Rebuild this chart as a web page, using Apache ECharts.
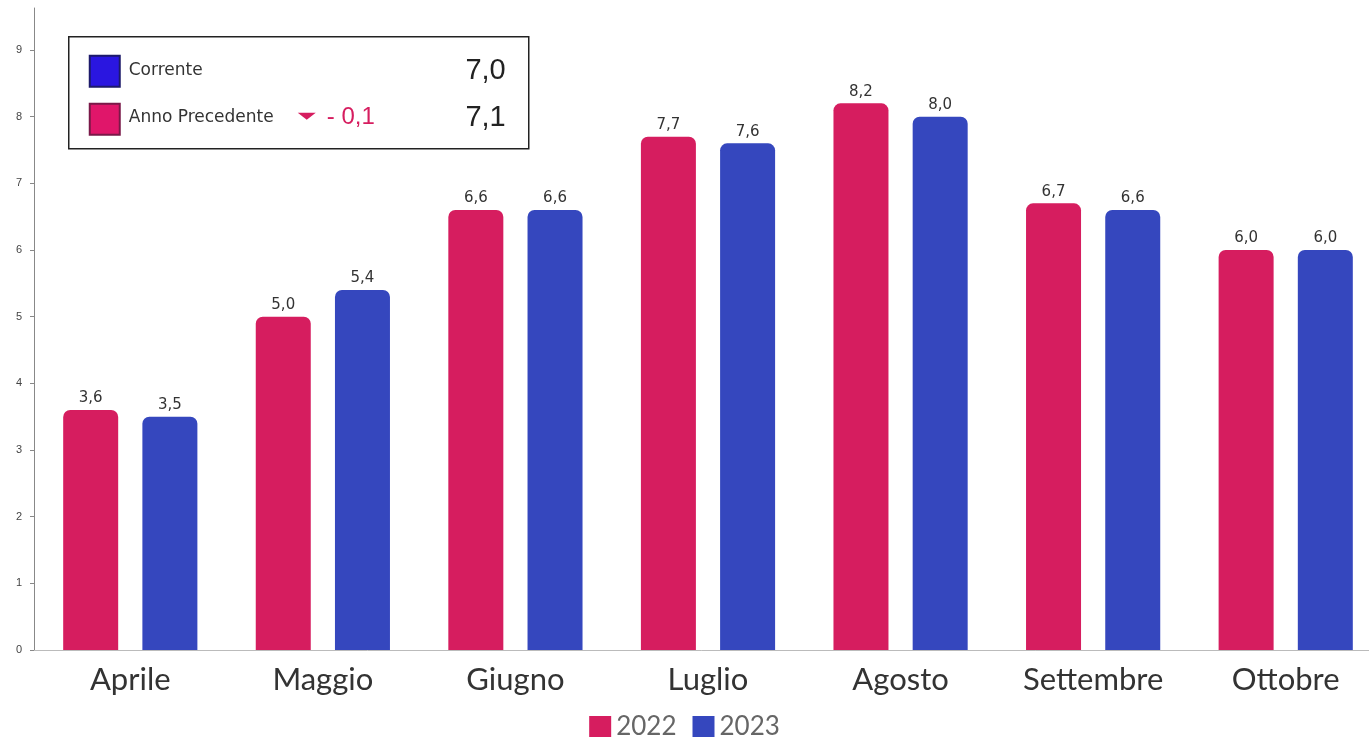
<!DOCTYPE html>
<html>
<head>
<meta charset="utf-8">
<script src="https://cdn.jsdelivr.net/npm/echarts@6/dist/echarts.min.js"></script>
<style>
  html, body { margin: 0; padding: 0; background: #fff; }
  #chart { width: 1369px; height: 737px; }
</style>
</head>
<body>
<div id="chart"></div>
<script>
const months = ['Aprile', 'Maggio', 'Giugno', 'Luglio', 'Agosto', 'Settembre', 'Ottobre'];
const values2022 = [3.6, 5.0, 6.6, 7.7, 8.2, 6.7, 6.0];
const values2023 = [3.5, 5.4, 6.6, 7.6, 8.0, 6.6, 6.0];
const yTicks = [0, 1, 2, 3, 4, 5, 6, 7, 8, 9];
// riquadro riepilogo
const currentValue = 7.0;
const previousValue = 7.1;
const deltaValue = -0.1;

const fmt = v => v.toFixed(1).replace('.', ',');
const pink = '#d61d5f';
const blue = '#3547be';

const chart = echarts.init(document.getElementById('chart'));

const barLabel = {
  show: true, position: 'top', distance: 4, fontSize: 15,
  fontFamily: 'DejaVu Sans', color: '#333', formatter: p => fmt(p.value)
};

const option = {
  animation: false,
  grid: { left: 34, right: -13, top: 8, bottom: 87, outerBoundsMode: 'none', containLabel: false },
  legend: {
    data: ['2022', '2023'],
    top: 709,
    left: 'center',
    itemWidth: 22,
    itemHeight: 22,
    itemGap: 16,
    icon: 'rect',
    textStyle: { fontSize: 26, color: '#666', fontFamily: 'Lato', padding: [0, 0, 0, 0] }
  },
  xAxis: {
    type: 'category',
    data: months,
    axisLine: { lineStyle: { color: '#bbb', width: 1 } },
    axisTick: { alignWithLabel: true, length: 3, lineStyle: { color: '#999' } },
    axisLabel: { fontSize: 31, color: '#333', fontFamily: 'Lato', margin: 14 }
  },
  yAxis: {
    type: 'value',
    min: 0,
    max: 9.63,
    axisLine: { show: true, lineStyle: { color: '#888', width: 1 } },
    axisTick: { show: true, length: 4, customValues: yTicks, lineStyle: { color: '#888' } },
    axisLabel: { fontSize: 11, color: '#444', margin: 12, customValues: yTicks },
    splitLine: { show: false }
  },
  series: [
    {
      name: '2022',
      type: 'bar',
      data: values2022,
      barWidth: 55,
      barGap: '44%',
      itemStyle: { color: pink, borderRadius: [7, 7, 0, 0] },
      label: barLabel
    },
    {
      name: '2023',
      type: 'bar',
      data: values2023,
      barWidth: 55,
      itemStyle: { color: blue, borderRadius: [7, 7, 0, 0] },
      label: barLabel
    }
  ],
  graphic: [
    {
      type: 'group',
      left: 68,
      top: 36,
      children: [
        { type: 'rect', shape: { x: 0, y: 0, width: 460, height: 112 }, style: { fill: '#fff', stroke: '#222', lineWidth: 1.5 } },
        { type: 'rect', shape: { x: 21, y: 19, width: 30, height: 31 }, style: { fill: '#2a16e0', stroke: '#1c1a6a', lineWidth: 2 } },
        { type: 'rect', shape: { x: 21, y: 67, width: 30, height: 31 }, style: { fill: '#e0166a', stroke: '#7a1848', lineWidth: 2 } },
        { type: 'text', x: 60, y: 34, style: { text: 'Corrente', fontSize: 17, fontFamily: 'DejaVu Sans', fill: '#333', verticalAlign: 'middle' } },
        { type: 'text', x: 60, y: 81, style: { text: 'Anno Precedente', fontSize: 17, fontFamily: 'DejaVu Sans', fill: '#333', verticalAlign: 'middle' } },
        { type: 'polygon', shape: { points: [[229, 76], [247, 76], [238, 83]] }, style: { fill: pink } },
        { type: 'text', x: 258, y: 81, style: { text: '- ' + fmt(Math.abs(deltaValue)), fontSize: 24, fill: pink, verticalAlign: 'middle' } },
        { type: 'text', x: 437, y: 34, style: { text: fmt(currentValue), fontSize: 29, fill: '#222', align: 'right', verticalAlign: 'middle' } },
        { type: 'text', x: 437, y: 81, style: { text: fmt(previousValue), fontSize: 29, fill: '#222', align: 'right', verticalAlign: 'middle' } }
      ]
    }
  ]
};

chart.setOption(option);
</script>
</body>
</html>
